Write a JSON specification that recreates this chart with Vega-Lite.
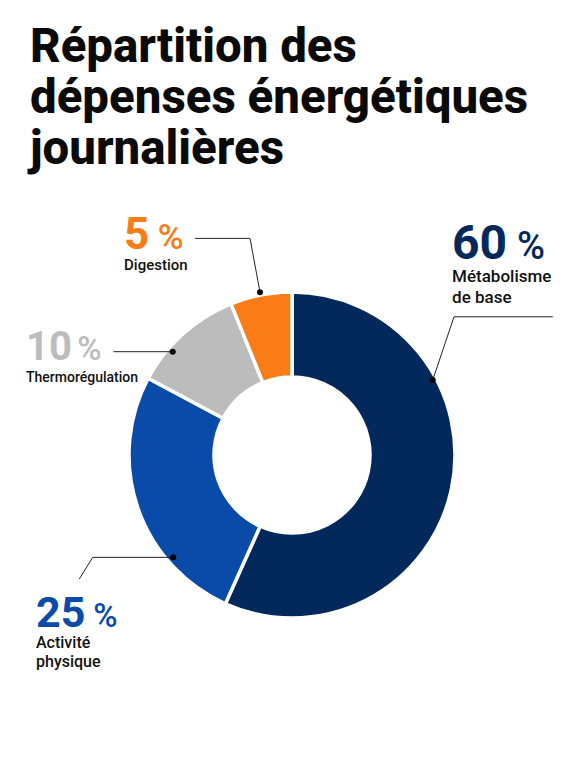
{
  "$schema": "https://vega.github.io/schema/vega-lite/v6.json",
  "width": 576,
  "height": 578,
  "autosize": "none",
  "padding": {"left": 0, "top": 190, "right": 0, "bottom": 0},
  "background": "white",
  "title": {
    "text": ["Répartition des", "dépenses énergétiques", "journalières"],
    "anchor": "start",
    "frame": "group",
    "dx": 30,
    "offset": 16,
    "font": "Roboto",
    "fontSize": 47.4,
    "fontWeight": 800,
    "lineHeight": 51,
    "color": "#0a0a0a"
  },
  "config": {"view": {"stroke": null}},
  "datasets": {
    "postes": [
      {"rang": 1, "poste": "Métabolisme de base", "pct": 60, "part": 56.7, "xNombre": 97.6, "yNombre": 119.7, "xSigne": 137.2},
      {"rang": 2, "poste": "Activité physique", "pct": 25, "part": 26.1, "xNombre": -156.1, "yNombre": -104.9, "xSigne": -121.2},
      {"rang": 3, "poste": "Thermorégulation", "pct": 10, "part": 11.1, "xNombre": -162.2, "yNombre": 57.9, "xSigne": -130.9},
      {"rang": 4, "poste": "Digestion", "pct": 5, "part": 6.1, "xNombre": -102.4, "yNombre": 125.4, "xSigne": -81.9}
    ],
    "libelles": [
      {"poste": "Métabolisme de base", "ligne": "Métabolisme", "xl": 97.6, "yl": 105.7},
      {"poste": "Métabolisme de base", "ligne": "de base", "xl": 97.6, "yl": 92.5},
      {"poste": "Activité physique", "ligne": "Activité", "xl": -156.1, "yl": -117.9},
      {"poste": "Activité physique", "ligne": "physique", "xl": -156.1, "yl": -129.1},
      {"poste": "Thermorégulation", "ligne": "Thermorégulation", "xl": -162.2, "yl": 44.7},
      {"poste": "Digestion", "ligne": "Digestion", "xl": -102.4, "yl": 113.1}
    ],
    "reperes": [
      {"poste": "Métabolisme de base", "ordre": 1, "xr": 159, "yr": 84.3, "bout": 0},
      {"poste": "Métabolisme de base", "ordre": 2, "xr": 98.8, "yr": 84.3, "bout": 0},
      {"poste": "Métabolisme de base", "ordre": 3, "xr": 85.8, "yr": 45.7, "bout": 1},
      {"poste": "Activité physique", "ordre": 1, "xr": -129.7, "yr": -75.6, "bout": 0},
      {"poste": "Activité physique", "ordre": 2, "xr": -121.5, "yr": -62.4, "bout": 0},
      {"poste": "Activité physique", "ordre": 3, "xr": -72.4, "yr": -62.4, "bout": 1},
      {"poste": "Thermorégulation", "ordre": 1, "xr": -108.9, "yr": 63, "bout": 0},
      {"poste": "Thermorégulation", "ordre": 2, "xr": -72.7, "yr": 63, "bout": 1},
      {"poste": "Digestion", "ordre": 1, "xr": -59.1, "yr": 132.1, "bout": 0},
      {"poste": "Digestion", "ordre": 2, "xr": -25.6, "yr": 132.1, "bout": 0},
      {"poste": "Digestion", "ordre": 3, "xr": -19.5, "yr": 99.2, "bout": 1}
    ]
  },
  "resolve": {"scale": {"size": "independent"}},
  "layer": [
    {
      "data": {"name": "postes"},
      "mark": {"type": "arc", "innerRadius": 78, "outerRadius": 163, "stroke": "white", "strokeWidth": 3.5},
      "encoding": {
        "x": {"datum": 0, "type": "quantitative", "scale": {"domain": [-178.05, 173.17], "nice": false, "zero": false}, "axis": null},
        "y": {"datum": 0, "type": "quantitative", "scale": {"domain": [-190.85, 161.6], "nice": false, "zero": false}, "axis": null},
        "theta": {"field": "part", "type": "quantitative", "stack": true},
        "order": {"field": "rang"},
        "color": {
          "field": "poste",
          "type": "nominal",
          "legend": null,
          "scale": {
            "domain": ["Métabolisme de base", "Activité physique", "Thermorégulation", "Digestion"],
            "range": ["#02285c", "#0a4aa8", "#bcbcbc", "#f97c16"]
          }
        }
      }
    },
    {
      "data": {"name": "reperes"},
      "mark": {"type": "line", "color": "#222222", "strokeWidth": 1},
      "encoding": {
        "x": {"field": "xr", "type": "quantitative"},
        "y": {"field": "yr", "type": "quantitative"},
        "detail": {"field": "poste"},
        "order": {"field": "ordre"}
      }
    },
    {
      "data": {"name": "reperes"},
      "transform": [{"filter": "datum.bout == 1"}],
      "mark": {"type": "circle", "color": "#050505", "size": 36, "opacity": 1},
      "encoding": {
        "x": {"field": "xr", "type": "quantitative"},
        "y": {"field": "yr", "type": "quantitative"}
      }
    },
    {
      "data": {"name": "postes"},
      "mark": {"type": "text", "align": "left", "baseline": "alphabetic", "font": "Roboto", "fontWeight": 700},
      "encoding": {
        "x": {"field": "xNombre", "type": "quantitative"},
        "y": {"field": "yNombre", "type": "quantitative"},
        "text": {"field": "pct", "type": "nominal"},
        "color": {"field": "poste", "type": "nominal"},
        "size": {
          "field": "poste",
          "type": "nominal",
          "legend": null,
          "scale": {
            "type": "ordinal",
            "domain": ["Métabolisme de base", "Activité physique", "Thermorégulation", "Digestion"],
            "range": [48, 43, 40, 44]
          }
        }
      }
    },
    {
      "data": {"name": "postes"},
      "mark": {"type": "text", "align": "left", "baseline": "alphabetic", "font": "Roboto", "fontWeight": 500, "text": "%"},
      "encoding": {
        "x": {"field": "xSigne", "type": "quantitative"},
        "y": {"field": "yNombre", "type": "quantitative"},
        "color": {"field": "poste", "type": "nominal"},
        "size": {
          "field": "poste",
          "type": "nominal",
          "legend": null,
          "scale": {
            "type": "ordinal",
            "domain": ["Métabolisme de base", "Activité physique", "Thermorégulation", "Digestion"],
            "range": [38, 33, 33, 35]
          }
        }
      }
    },
    {
      "data": {"name": "libelles"},
      "mark": {"type": "text", "align": "left", "baseline": "alphabetic", "font": "Roboto", "fontWeight": 500, "color": "#111111"},
      "encoding": {
        "x": {"field": "xl", "type": "quantitative"},
        "y": {"field": "yl", "type": "quantitative"},
        "text": {"field": "ligne", "type": "nominal"},
        "size": {
          "field": "poste",
          "type": "nominal",
          "legend": null,
          "scale": {
            "type": "ordinal",
            "domain": ["Métabolisme de base", "Activité physique", "Thermorégulation", "Digestion"],
            "range": [17, 16, 14, 15]
          }
        }
      }
    }
  ]
}
